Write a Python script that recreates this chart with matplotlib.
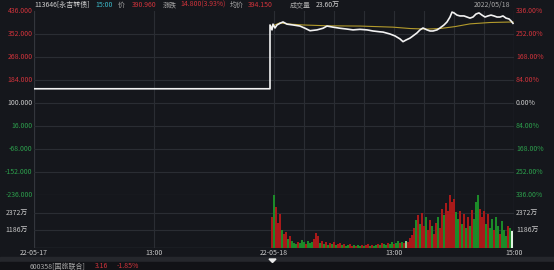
import numpy as np
import matplotlib
matplotlib.use("Agg")
from matplotlib import pyplot as plt

plt.rcParams['font.family'] = ['Noto Sans CJK SC', 'DejaVu Sans']

W, H = 554, 270

# minutes from 22-05-17 09:30 (240 per day)
price_min = [0, 236, 236, 238, 239, 241, 243, 246, 249, 253, 259, 266, 271, 276, 283,
             289, 293, 299, 306, 313, 319, 326, 333, 339, 346, 349, 356, 361, 366,
             369, 372, 376, 379, 383, 386, 389, 393, 396, 399, 403, 406, 410, 413,
             416, 418, 420, 423, 426, 430, 433, 436, 439, 442, 445, 448, 451, 454,
             457, 460, 463, 466, 469, 472, 475, 477, 479]
price_val = [152, 152, 385, 367, 388, 374, 385, 391, 396, 388, 385, 381, 373, 364, 367,
             373, 381, 377, 373, 370, 367, 369, 367, 363, 360, 359, 352, 345, 334,
             324, 330, 337, 345, 356, 367, 374, 367, 363, 363, 367, 374, 385, 396,
             414, 432, 429, 421, 418, 418, 414, 410, 414, 425, 429, 421, 414, 418,
             421, 418, 414, 414, 418, 410, 407, 400, 391]

avg_min = [237, 246, 253, 269, 293, 326, 359, 376, 393, 406, 421, 436, 456, 479]
avg_val = [379, 393, 389, 385, 382, 381, 377, 372, 370, 372, 379, 389, 394, 396]

# volume (万) in 2-minute bins of 22-05-18
vol_start = 237
volume = [
    2050, 3560, 2740, 1710, 2260, 1230, 960, 1100, 620, 820,
    480, 340, 270, 410, 340, 550, 410, 270, 480, 340,
    410, 620, 1030, 820, 340, 480, 270, 410, 210, 340,
    270, 410, 210, 270, 340, 210, 270, 140, 210, 270,
    140, 210, 140, 210, 140, 210, 140, 210, 270, 140,
    210, 140, 210, 270, 210, 340, 270, 210, 340, 270,
    410, 270, 340, 480, 340, 410, 340, 480, 410, 690,
    890, 1370, 1850, 2190, 1640, 2330, 1510, 2060, 1230, 1850,
    1510, 960, 1710, 2060, 1370, 2600, 2190, 3010, 2470, 3560,
    3080, 3290, 2400, 1920, 2470, 1640, 2260, 1370, 2060, 1510,
    2530, 1920, 3080, 3560, 2600, 2060, 2470, 1640, 2260, 1370,
    1920, 1230, 2060, 1510, 960, 1780, 1230, 820, 1510, 1370,
    1160]
vol_dir = ("rgrrrgrrgr" "gggrgggrgg" "grrrgrgrgr" "grgrrgrggr" "rgrggrgrrg"
           "rggrgrggrg" "grggrgrlrr" "rrgrgrrgrr" "grrgrrgrrr" "rrggrgrgrg"
           "rgggrrrgrg" "grggrgggrg" "w")

price_ticks = [436, 352, 268, 184, 100, 16, -68, -152, -236]
base_price = 100
vol_ticks = [2372, 1186]
vol_max = 3558

x_ticks = [0, 120, 240, 360, 480]
x_labels = ["22-05-17", "13:00", "22-05-18", "13:00", "15:00"]
v_grid = [120, 240, 270, 300, 330, 360, 390, 420, 450]

bg = '#15171c'
grid_c = '#2a2d33'
red = '#d0333b'
green = '#2c9f4c'
txt = '#c8c8c8'
dir_col = {'r': '#a81a1a', 'g': '#1c8a29', 'l': '#86d08e', 'w': '#dff2df'}


def px_axes(fig, x0, y0, x1, y1):
    return fig.add_axes([x0 / W, 1 - y1 / H, (x1 - x0) / W, (y1 - y0) / H])


fig = plt.figure(figsize=(W / 100, H / 100), dpi=100, facecolor=bg)

ax = px_axes(fig, 34, 11, 514, 195)
axv = px_axes(fig, 34, 195, 514, 248)

for a in (ax, axv):
    a.set_facecolor(bg)
    a.set_xlim(0, 480)
    a.set_xticks([])
    a.set_yticks([])
    for s in a.spines.values():
        s.set_visible(False)
    for m in v_grid:
        a.axvline(m, color=grid_c, lw=0.8, zorder=0)
    a.axvline(0, color='#33363c', lw=0.9, zorder=0)
    a.axvline(480, color='#33363c', lw=0.9, zorder=0)

ax.set_ylim(price_ticks[-1], price_ticks[0])
for p in price_ticks[1:-1]:
    ax.axhline(p, color=grid_c, lw=0.8, zorder=0)
ax.axhline(price_ticks[-1], color=grid_c, lw=0.9, zorder=0)

ax.plot(avg_min, avg_val, color='#b39b2c', lw=0.8, zorder=2)
ax.plot(price_min, price_val, color='#f2f2f2', lw=1.2, zorder=3)

ytr = ax.get_yaxis_transform()
for p in price_ticks:
    c = red if p > base_price else (txt if p == base_price else green)
    ax.text(-0.003, p, f"{p:.3f}", transform=ytr, ha='right', va='center',
            fontsize=5, color=c, clip_on=False)
    ax.text(1.004, p, f"{abs(p - base_price) / base_price * 100:.2f}%", transform=ytr,
            ha='left', va='center', fontsize=5, color=c, clip_on=False)

axv.set_ylim(0, vol_max)
for v in vol_ticks:
    axv.axhline(v, color=grid_c, lw=0.8, zorder=0)
    vtr = axv.get_yaxis_transform()
    axv.text(-0.012, v, f"{v}万", transform=vtr, ha='right', va='center',
             fontsize=5, color=txt, clip_on=False)
    axv.text(1.004, v, f"{v}万", transform=vtr, ha='left', va='center',
             fontsize=5, color=txt, clip_on=False)
axv.axhline(0, color='#33363c', lw=1.0)

vx = vol_start + 1 + 2 * np.arange(len(volume))
axv.bar(vx, volume, width=2.0, color=[dir_col[d] for d in vol_dir], lw=0, zorder=2)

xtr = axv.get_xaxis_transform()
for m, lab in zip(x_ticks, x_labels):
    axv.text(m, -0.1, lab, transform=xtr, ha='center', va='center', fontsize=5,
             color=txt, clip_on=False)

# header
def ftext(x, y, s, c, **kw):
    fig.text(x / W, 1 - y / H, s, color=c, fontsize=5, va='center', ha='left', **kw)

ftext(34, 5, "113646[永吉转债]", '#d0d0d0')
ftext(95, 5, "15:00", '#3cb9c9')
ftext(118, 5, "价", '#a8a8a8')
ftext(132, 5, "390.960", red)
ftext(163, 5, "涨跌", '#a8a8a8')
ftext(180, 5, "14.800(3.93%)", red)
ftext(230, 5, "均价", '#a8a8a8')
ftext(248, 5, "394.150", red)
ftext(290, 5, "成交量", '#a8a8a8')
ftext(316, 5, "23.60万", '#d0d0d0')
ftext(474, 5, "2022/05/18", '#a8a8a8')

# bottom strip
fig.patches.append(plt.Rectangle((0, 1 - 262 / H), 1, 5 / H, transform=fig.transFigure,
                                 color='#25272c', zorder=0))
fig.patches.append(plt.Rectangle((0, 0), 1, 8 / H, transform=fig.transFigure,
                                 color='#111216', zorder=0))
fig.patches.append(plt.Polygon([[269 / W, 1 - 259 / H], [276 / W, 1 - 259 / H],
                                [272.5 / W, 1 - 262.5 / H]], closed=True,
                               transform=fig.transFigure, color='#e8e8e8', zorder=1))
ftext(30, 266.5, "600358[国旅联合]", '#a8a8a8')
ftext(95, 266.5, "3.16", red)
ftext(117, 266.5, "-1.85%", red)

fig.savefig("out.png", dpi=100, facecolor=bg)
